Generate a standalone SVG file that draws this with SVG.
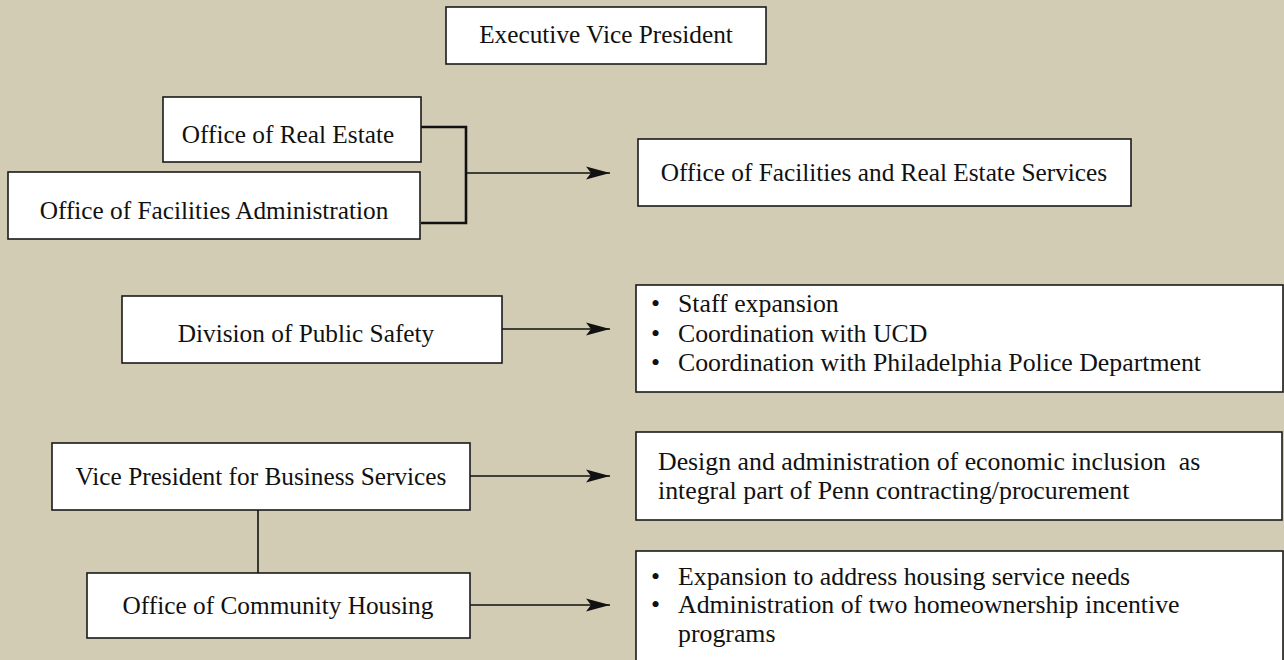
<svg xmlns="http://www.w3.org/2000/svg" width="1284" height="660" viewBox="0 0 1284 660">
<style>
.box{fill:#ffffff;stroke:#1a1a1a;stroke-width:1.6}
.t{font-family:"Liberation Serif","Times New Roman",serif;font-size:25.3px;fill:#111}
.b{font-family:"Liberation Serif","Times New Roman",serif;font-size:25.8px;fill:#111}
.c{text-anchor:middle}
.ln{stroke:#111;stroke-width:1.6;fill:none}
.br{stroke:#111;stroke-width:2.6;fill:none}
</style>
<defs>
<marker id="ah" markerUnits="userSpaceOnUse" markerWidth="26" markerHeight="14" refX="24" refY="7" orient="auto">
<path d="M0,0.5 L24,7 L0,13.5 L5,7 Z" fill="#111"/>
</marker>
</defs>
<rect width="1284" height="660" fill="#d3ccb4"/>
<g id="connectors">
<polyline class="br" points="421,127 466,127 466,223 421,223"/>
<line class="ln" x1="466" y1="173" x2="610" y2="173" marker-end="url(#ah)"/>
<line class="ln" x1="502" y1="329" x2="610" y2="329" marker-end="url(#ah)"/>
<line class="ln" x1="470" y1="476" x2="610" y2="476" marker-end="url(#ah)"/>
<line class="ln" x1="258" y1="510" x2="258" y2="573"/>
<line class="ln" x1="470" y1="605" x2="610" y2="605" marker-end="url(#ah)"/>
</g>
<g id="evp"><rect class="box" x="446" y="7" width="320" height="57"/><text class="t c" x="606" y="43">Executive Vice President</text></g>
<g id="ore"><rect class="box" x="163" y="97" width="258" height="65"/><text class="t c" x="288" y="143">Office of Real Estate</text></g>
<g id="ofa"><rect class="box" x="8" y="172" width="412" height="67"/><text class="t c" x="214" y="219">Office of Facilities Administration</text></g>
<g id="ofres"><rect class="box" x="638" y="139" width="493" height="67"/><text class="t c" x="884" y="181">Office of Facilities and Real Estate Services</text></g>
<g id="dps"><rect class="box" x="122" y="296" width="380" height="67"/><text class="t c" x="306" y="342">Division of Public Safety</text></g>
<g id="safety-items"><rect class="box" x="636" y="285" width="647" height="107"/>
<text class="b" x="651" y="312">•<tspan x="678">Staff expansion</tspan></text>
<text class="b" x="651" y="342">•<tspan x="678">Coordination with UCD</tspan></text>
<text class="b" x="651" y="371">•<tspan x="678">Coordination with Philadelphia Police Department</tspan></text></g>
<g id="vpbs"><rect class="box" x="52" y="443" width="418" height="67"/><text class="t c" x="261" y="485">Vice President for Business Services</text></g>
<g id="econ"><rect class="box" x="636" y="432" width="646" height="88"/>
<text class="b" x="658" y="470" style="white-space:pre">Design and administration of economic inclusion  as</text>
<text class="b" x="658" y="499">integral part of Penn contracting/procurement</text></g>
<g id="och"><rect class="box" x="87" y="573" width="383" height="65"/><text class="t c" x="278" y="614">Office of Community Housing</text></g>
<g id="housing-items"><rect class="box" x="636" y="551" width="647" height="120"/>
<text class="b" x="651" y="585">•<tspan x="678">Expansion to address housing service needs</tspan></text>
<text class="b" x="651" y="613">•<tspan x="678">Administration of two homeownership incentive</tspan></text>
<text class="b" x="678" y="642">programs</text></g>
</svg>
